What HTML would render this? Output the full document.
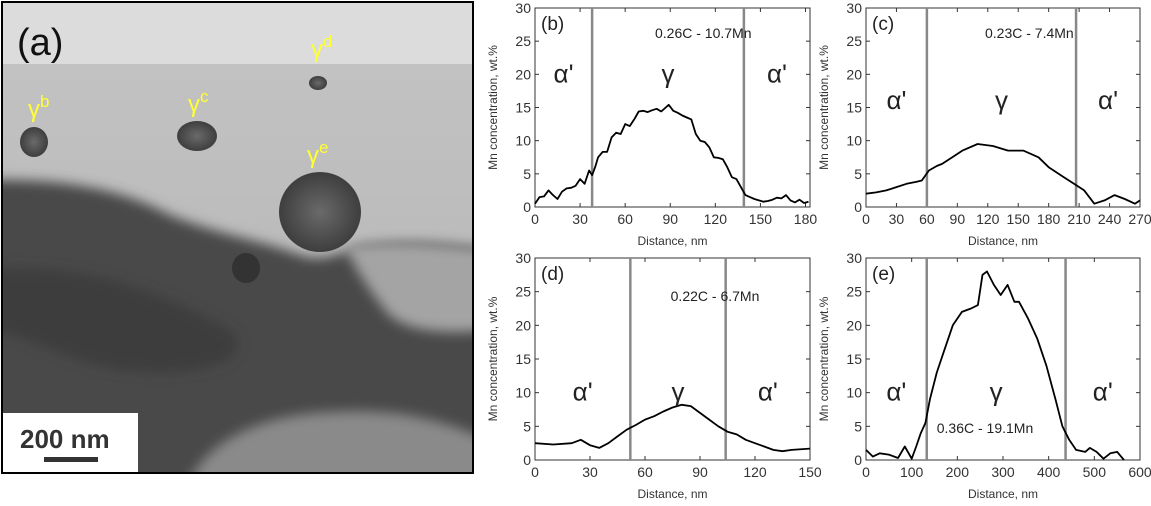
<!DOCTYPE html>
<html><head><meta charset="utf-8"><style>
body{margin:0;background:#fff;width:1151px;height:501px;overflow:hidden}
svg text{font-family:"Liberation Sans",sans-serif}
</style></head><body>
<svg id="fig" width="1151" height="501" xmlns="http://www.w3.org/2000/svg">
<defs>
<linearGradient id="mid" x1="0" y1="0" x2="0" y2="1"><stop offset="0" stop-color="#c4c4c4"/><stop offset="1" stop-color="#b4b4b4"/></linearGradient>
<radialGradient id="blob"><stop offset="0" stop-color="#6a6a6a"/><stop offset="1" stop-color="#3e3e3e"/></radialGradient>
<filter id="blur" x="-20%" y="-20%" width="140%" height="140%"><feGaussianBlur stdDeviation="6"/></filter>
<clipPath id="imgclip"><rect x="2" y="2" width="471" height="471"/></clipPath>
</defs>
<g>
<g clip-path="url(#imgclip)">
<rect x="2" y="2" width="471" height="471" fill="url(#mid)"/>
<rect x="2" y="2" width="471" height="62" fill="#dcdcdc"/>
<path d="M-20,180 C60,178 120,188 170,215 C220,235 260,240 300,255 C330,265 350,245 370,245 C420,240 450,245 500,250 L500,500 L-20,500 Z" fill="#4a4a4a" filter="url(#blur)"/>
<path d="M345,245 C400,240 450,245 490,250 L490,330 C440,335 400,330 385,310 C370,290 355,270 345,245Z" fill="#a4a4a4" filter="url(#blur)"/>
<path d="M190,480 C210,440 260,415 330,412 C400,408 440,420 490,440 L490,500 L190,500Z" fill="#8a8a8a" filter="url(#blur)"/>
<path d="M-20,270 C80,260 160,290 230,330 C260,360 200,380 120,370 C60,360 20,330 -20,330Z" fill="#3c3c3c" filter="url(#blur)"/>
</g>
<ellipse cx="34" cy="142" rx="14" ry="15" fill="url(#blob)"/>
<ellipse cx="197" cy="136" rx="20" ry="15" fill="url(#blob)"/>
<ellipse cx="318" cy="83" rx="9" ry="7" fill="url(#blob)"/>
<ellipse cx="320" cy="212" rx="41" ry="40" fill="url(#blob)"/>
<ellipse cx="246" cy="268" rx="14" ry="15" fill="#333"/>
<rect x="2" y="2" width="471" height="471" fill="none" stroke="#000" stroke-width="2"/>
<text x="17" y="55" font-size="38" fill="#111">(a)</text>
<g fill="#ffff33" font-family="Liberation Serif,serif">
<text x="28" y="117" font-size="24">γ<tspan font-size="17" dy="-10" font-family="Liberation Sans">b</tspan></text>
<text x="188" y="112" font-size="24">γ<tspan font-size="17" dy="-10" font-family="Liberation Sans">c</tspan></text>
<text x="311" y="57" font-size="24">γ<tspan font-size="17" dy="-10" font-family="Liberation Sans">d</tspan></text>
<text x="307" y="163" font-size="24">γ<tspan font-size="17" dy="-10" font-family="Liberation Sans">e</tspan></text>
</g>
<g>
<rect x="3" y="413" width="135" height="59" fill="#fff"/>
<text x="20" y="448" font-size="26" font-weight="bold" fill="#333">200 nm</text>
<rect x="44" y="457" width="54" height="5" fill="#333"/>
</g>
</g>
<g id="charts"></g>
</svg>
<script>
const panelLabels=["(b)","(c)","(d)","(e)"];
const compositions=["0.26C - 10.7Mn","0.23C - 7.4Mn","0.22C - 6.7Mn","0.36C - 19.1Mn"];
const xMaxes=[183,270,150,600];
const xTickStep=[30,30,30,100];
const yTicks=[0,5,10,15,20,25,30];
const boundaries=[[38,139],[60,207],[52,104],[133,437]];
const bX=[0,3,6,9,12,15,18,21,24,27,30,33,36,38,40,42,45,48,51,54,57,60,63,66,69,72,75,78,81,84,87,89,92,95,98,101,104,107,110,113,116,119,122,125,128,131,134,137,140,143,146,149,152,155,158,161,164,167,170,173,176,179,182];
const bY=[0.5,1.5,1.6,2.5,1.8,1.2,2.3,2.8,2.9,3.2,4.2,3.5,5.5,4.8,6,7.5,8.3,8.3,10.5,11.2,11,12.5,12.2,13.2,14.4,14.5,14.3,14.6,14.8,14.4,15,15.4,14.5,14.2,13.8,13.5,13.2,11,10,9.8,9,7.5,7.4,7.2,6,4.5,4.2,3,1.8,1.5,1.2,1,0.8,0.9,1.1,1.4,1.3,1.8,1,0.7,1.1,0.6,0.8];
const cX=[0,10,20,30,40,50,55,62,70,75,85,95,110,125,140,155,170,180,195,205,215,225,235,245,255,265,270];
const cY=[2,2.2,2.5,3,3.5,3.8,4,5.5,6.2,6.5,7.5,8.5,9.5,9.2,8.5,8.5,7.5,6,4.5,3.5,2.5,0.5,1,1.8,1.2,0.5,1];
const dX=[0,10,20,25,30,35,40,45,50,55,60,65,70,75,80,85,90,95,100,105,110,115,120,125,130,135,140,150];
const dY=[2.5,2.3,2.5,3,2.2,1.8,2.5,3.5,4.5,5.2,6,6.5,7.2,7.8,8.2,8,7,6,5,4.2,3.8,3,2.5,2,1.5,1.3,1.5,1.7];
const eX=[0,15,30,50,70,85,100,110,120,130,140,155,170,190,210,230,245,255,265,280,295,310,325,335,355,375,395,415,430,445,460,480,490,505,520,535,550,565];
const eY=[1.5,0.5,1,0.8,0.3,2,0.2,2,4,5.5,9,13,16,20,22,22.5,23,27.5,28,26,24.5,26,23.5,23.5,21,18,14,9,5,3,1.5,1.2,1.8,1.2,0.2,1,1.2,0];
const seriesX=[bX,cX,dX,eX];
const seriesY=[bY,cY,dY,eY];
const boxes=[[535,8,810,207],[866,8,1140,207],[535,258,810,460],[866,258,1140,460]];
const phaseY=[20,16,10,10];
const compPos=[[655,38,"start"],[985,38,"start"],[715,301,"middle"],[985,433,"middle"]];
const NS="http://www.w3.org/2000/svg";
const root=document.getElementById('charts');
function mk(t,a,p){const e=document.createElementNS(NS,t);for(const k in a)e.setAttribute(k,a[k]);(p||root).appendChild(e);return e;}
for(let i=0;i<4;i++){
  const [x0,y0,x1,y1]=boxes[i];
  const sx=v=>x0+v/xMaxes[i]*(x1-x0);
  const sy=v=>y1-v/30*(y1-y0);
  const g=mk('g',{});
  
  
  const fr=mk('rect',{x:x0,y:y0,width:x1-x0,height:y1-y0,fill:'none',stroke:'#333','stroke-width':1},g);
  
  
  yTicks.forEach(t=>{
    const y=sy(t);
    mk('line',{x1:x0,x2:x0+4,y1:y,y2:y,stroke:'#333'},g);
    mk('line',{x1:x1,x2:x1-4,y1:y,y2:y,stroke:'#333'},g);
    const tx=mk('text',{x:x0-4,y:y+5,'font-size':14,'text-anchor':'end',fill:'#333'},g);
    tx.textContent=t;
    
    
  });
  for(let v=0;v<=xMaxes[i];v+=xTickStep[i]){
    const x=sx(v);
    mk('line',{x1:x,x2:x,y1:y1,y2:y1-4,stroke:'#333'},g);
    mk('line',{x1:x,x2:x,y1:y0,y2:y0+4,stroke:'#333'},g);
    const tx=mk('text',{x:x,y:y1+17,'font-size':14,'text-anchor':'middle',fill:'#333'},g);
    tx.textContent=v;
    
    
  }
  const xt=mk('text',{x:(x0+x1)/2,y:y1+38,'font-size':12,'text-anchor':'middle',fill:'#333'},g);
  xt.textContent='Distance, nm';
  
  
  const yt=mk('text',{x:0,y:0,'font-size':12,'text-anchor':'middle',fill:'#333',transform:`translate(${x0-38},${(y0+y1)/2}) rotate(-90)`},g);
  yt.textContent='Mn concentration, wt.%';
  
  
  boundaries[i].forEach(b=>{
    const l=mk('line',{x1:sx(b),x2:sx(b),y1:y0,y2:y1,stroke:'#888','stroke-width':2.5},g);
    
    
  });
  let d='';
  seriesX[i].forEach((v,k)=>{d+=(k?'L':'M')+sx(v).toFixed(1)+','+sy(seriesY[i][k]).toFixed(1);});
  const p=mk('path',{d:d,fill:'none',stroke:'#000','stroke-width':1.8,'stroke-linejoin':'round'},g);
  
  
  const lb=mk('text',{x:x0+6,y:y0+22,'font-size':19,fill:'#222'},g);
  lb.textContent=panelLabels[i];
  
  
  const cp=mk('text',{x:compPos[i][0],y:compPos[i][1],'font-size':14,'text-anchor':compPos[i][2],fill:'#222'},g);
  cp.textContent=compositions[i];
  
  
  const [b1,b2]=boundaries[i];
  const py=sy(phaseY[i])+8;
  [[(x0+sx(b1))/2,"α'"],[(sx(b1)+sx(b2))/2,"γ"],[(sx(b2)+x1)/2,"α'"]].forEach(([x,s])=>{
    const t=mk('text',{x:x,y:py,'font-size':26,'text-anchor':'middle',fill:'#222','font-family':'Liberation Serif,serif'},g);
    t.textContent=s;
    
    
  });
}
</script>
</body></html>
